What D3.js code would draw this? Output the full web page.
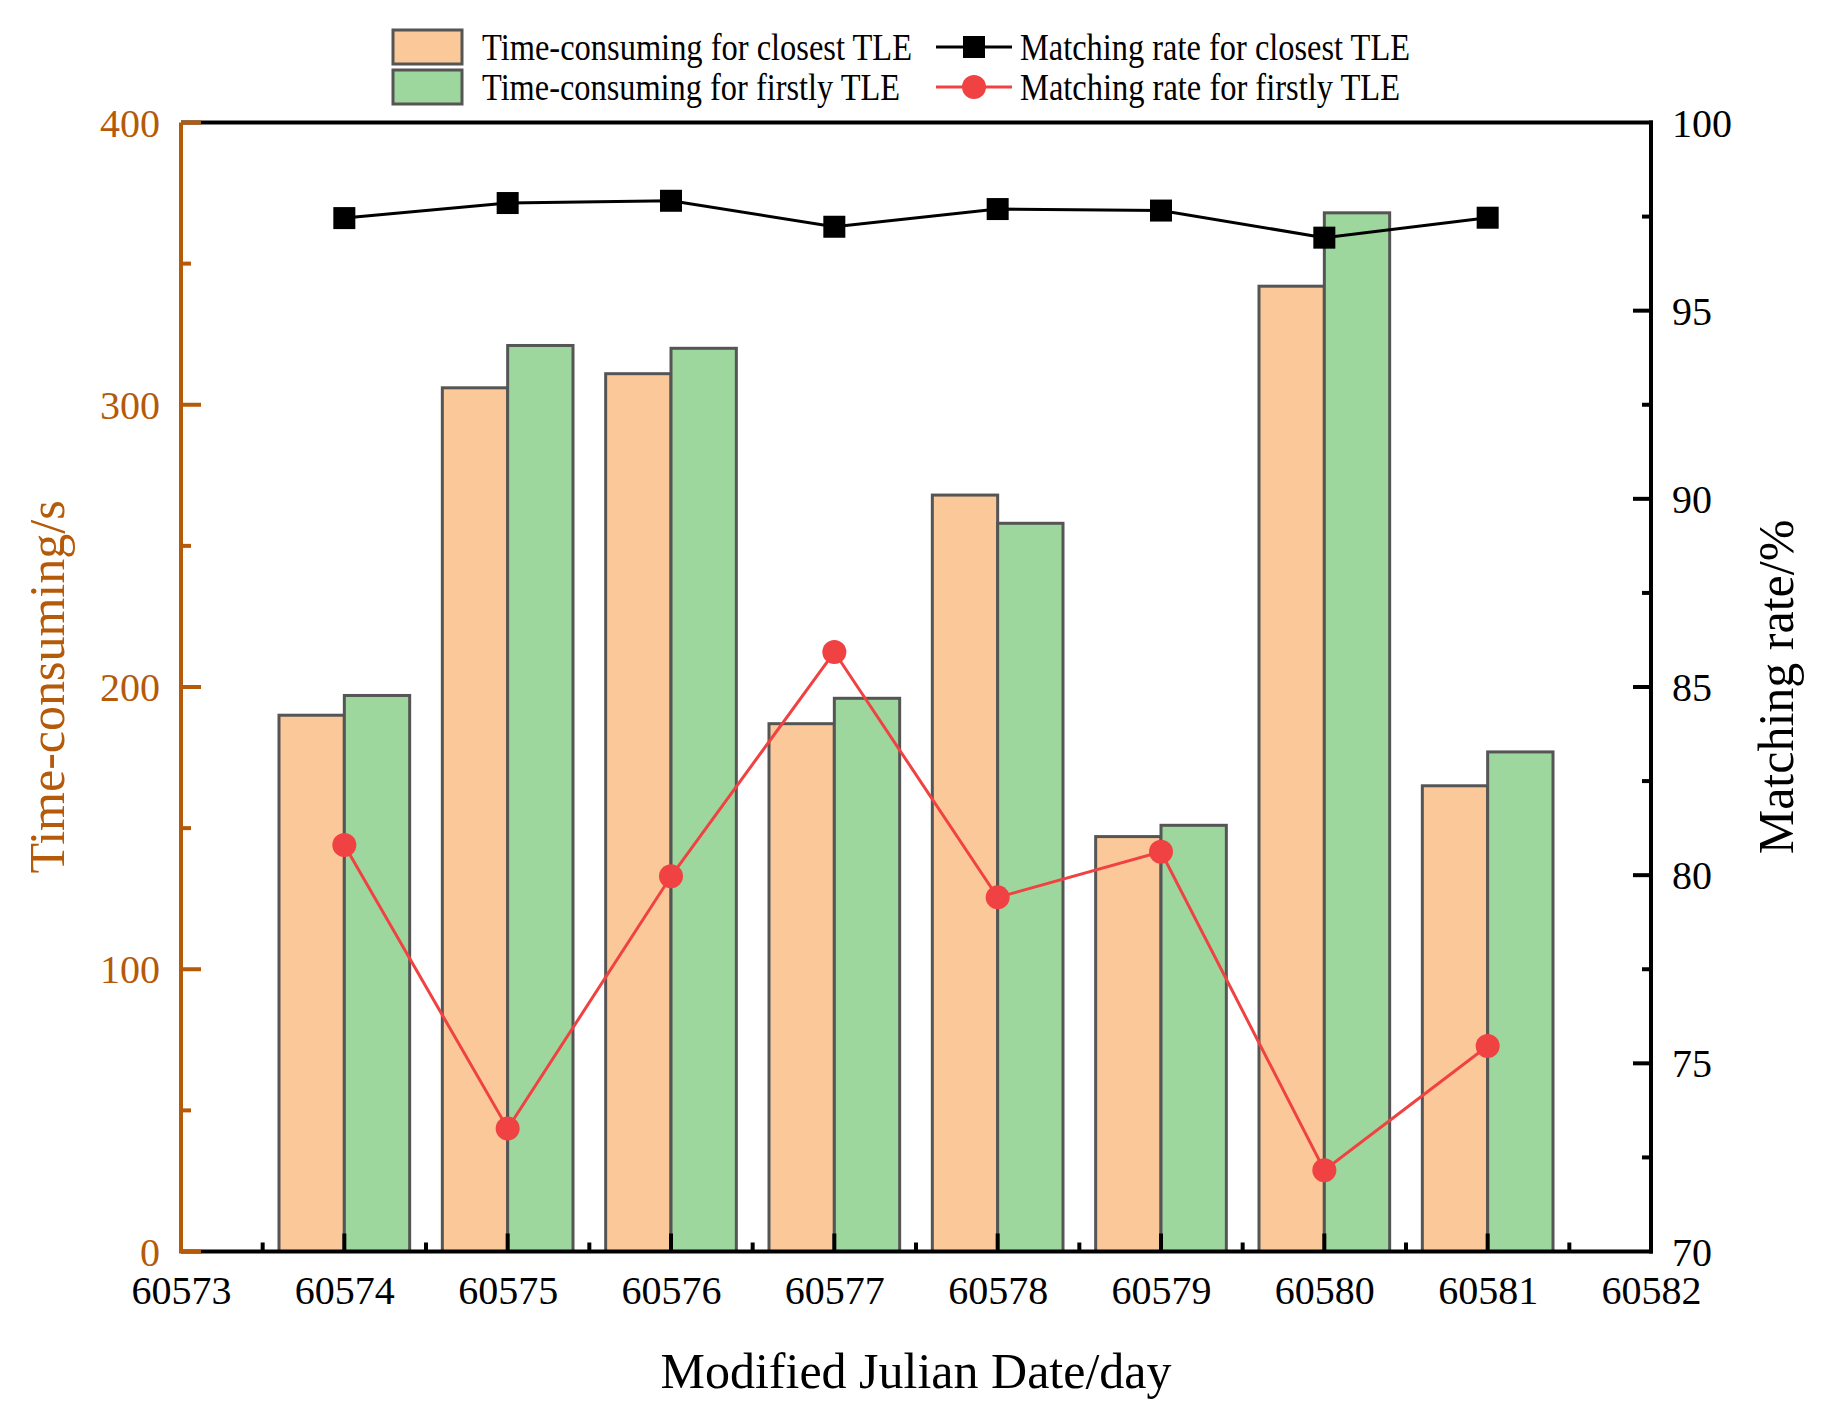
<!DOCTYPE html>
<html>
<head>
<meta charset="utf-8">
<script src="https://cdn.jsdelivr.net/npm/d3@7"></script>
<style>
  html, body { margin: 0; padding: 0; background: #fff; }
  svg { display: block; }
  svg text { font-family: "Liberation Serif", "Times New Roman", serif !important; }
</style>
</head>
<body>
<svg id="chart" width="1822" height="1414"></svg>
<script>
// ---- Data ----
const days = [60574, 60575, 60576, 60577, 60578, 60579, 60580, 60581];
const timeClosest = [190, 306, 311, 187, 268, 147, 342, 165];
const timeFirstly = [197, 321, 320, 196, 258, 151, 368, 177];
const rateClosest = [97.46, 97.86, 97.92, 97.23, 97.70, 97.66, 96.94, 97.47];
const rateFirstly = [80.8, 73.27, 79.97, 85.93, 79.41, 80.62, 72.16, 75.46];
const xTicks = [60573, 60574, 60575, 60576, 60577, 60578, 60579, 60580, 60581, 60582];
const leftTicks = [0, 100, 200, 300, 400];
const rightTicks = [70, 75, 80, 85, 90, 95, 100];
const legendLabels = ["Time-consuming for closest TLE", "Time-consuming for firstly TLE",
                      "Matching rate for closest TLE", "Matching rate for firstly TLE"];

// ---- Styles ----
const brown = "#B55A08";
const orangeFill = "#FBC999";
const greenFill = "#9ED79E";
const barStroke = "#555555";
const red = "#F04242";

const svg = d3.select("#chart");
const L = 181, R = 1651, T = 122.5, B = 1251.5;

const x = d3.scaleLinear().domain([60573, 60582]).range([L, R]);
const yL = d3.scaleLinear().domain([0, 400]).range([B, T]);
const yR = d3.scaleLinear().domain([70, 100]).range([B, T]);
const barW = 0.4;

const rows = days.map((d, i) => ({d, tc: timeClosest[i], tf: timeFirstly[i], rc: rateClosest[i], rf: rateFirstly[i]}));

// bars
svg.append("g").selectAll("rect").data(rows).join("rect")
  .attr("x", r => x(r.d - barW)).attr("width", r => x(r.d) - x(r.d - barW))
  .attr("y", r => yL(r.tc)).attr("height", r => yL(0) - yL(r.tc))
  .attr("fill", orangeFill).attr("stroke", barStroke).attr("stroke-width", 3);
svg.append("g").selectAll("rect").data(rows).join("rect")
  .attr("x", r => x(r.d)).attr("width", r => x(r.d + barW) - x(r.d))
  .attr("y", r => yL(r.tf)).attr("height", r => yL(0) - yL(r.tf))
  .attr("fill", greenFill).attr("stroke", barStroke).attr("stroke-width", 3);

// lines
const lineC = d3.line().x(r => x(r.d)).y(r => yR(r.rc));
const lineF = d3.line().x(r => x(r.d)).y(r => yR(r.rf));
svg.append("path").datum(rows).attr("d", lineC).attr("fill", "none").attr("stroke", "#000").attr("stroke-width", 3);
svg.append("g").selectAll("rect").data(rows).join("rect")
  .attr("x", r => x(r.d) - 11).attr("y", r => yR(r.rc) - 11).attr("width", 22).attr("height", 22).attr("fill", "#000");
svg.append("path").datum(rows).attr("d", lineF).attr("fill", "none").attr("stroke", red).attr("stroke-width", 3);
svg.append("g").selectAll("circle").data(rows).join("circle")
  .attr("cx", r => x(r.d)).attr("cy", r => yR(r.rf)).attr("r", 12).attr("fill", red);

// ---- Axes ----
const fontTick = 40;
const serif = "Liberation Serif";
// bottom axis
const xAxis = d3.axisBottom(x).tickValues(xTicks).tickFormat(d3.format("d")).tickSize(0).tickPadding(0);
const gx = svg.append("g").attr("transform", `translate(0,${B})`).call(xAxis).attr("font-family", serif);
gx.select(".domain").remove();
gx.selectAll("text").attr("font-size", fontTick).attr("fill", "#000").attr("dy", null).attr("y", 52);
// x ticks inward
const xMinor = d3.range(60573.5, 60582, 1);
svg.append("g").selectAll("line").data(xTicks.slice(1, -1)).join("line")
  .attr("x1", d => x(d)).attr("x2", d => x(d)).attr("y1", B).attr("y2", B - 18)
  .attr("stroke", "#000").attr("stroke-width", 4);
svg.append("g").selectAll("line").data(xMinor).join("line")
  .attr("x1", d => x(d)).attr("x2", d => x(d)).attr("y1", B).attr("y2", B - 9)
  .attr("stroke", "#000").attr("stroke-width", 4);
// frame lines
svg.append("line").attr("x1", L).attr("x2", R + 2).attr("y1", B).attr("y2", B).attr("stroke", "#000").attr("stroke-width", 4);
svg.append("line").attr("x1", L).attr("x2", R + 2).attr("y1", T).attr("y2", T).attr("stroke", "#000").attr("stroke-width", 4);
svg.append("line").attr("x1", R).attr("x2", R).attr("y1", T - 2).attr("y2", B + 2).attr("stroke", "#000").attr("stroke-width", 4);

// left axis
const yLAxis = d3.axisLeft(yL).tickValues(leftTicks).tickSize(0).tickPadding(0);
const gl = svg.append("g").attr("transform", `translate(${L},0)`).call(yLAxis).attr("font-family", serif);
gl.select(".domain").remove();
gl.selectAll("text").attr("font-size", fontTick).attr("fill", brown).attr("x", -21).attr("dy", "0.34em");
svg.append("g").selectAll("line").data(leftTicks).join("line")
  .attr("x1", L).attr("x2", L + 20).attr("y1", d => yL(d)).attr("y2", d => yL(d))
  .attr("stroke", brown).attr("stroke-width", 4);
svg.append("g").selectAll("line").data(d3.range(50, 400, 100)).join("line")
  .attr("x1", L).attr("x2", L + 10).attr("y1", d => yL(d)).attr("y2", d => yL(d))
  .attr("stroke", brown).attr("stroke-width", 4);
svg.append("line").attr("x1", L).attr("x2", L).attr("y1", T).attr("y2", B + 2).attr("stroke", brown).attr("stroke-width", 4);

// right axis
const yRAxis = d3.axisRight(yR).tickValues(rightTicks).tickSize(0).tickPadding(0);
const gr = svg.append("g").attr("transform", `translate(${R},0)`).call(yRAxis).attr("font-family", serif);
gr.select(".domain").remove();
gr.selectAll("text").attr("font-size", fontTick).attr("fill", "#000").attr("x", 21).attr("dy", "0.34em");
svg.append("g").selectAll("line").data(rightTicks.slice(1, -1)).join("line")
  .attr("x1", R).attr("x2", R - 18).attr("y1", d => yR(d)).attr("y2", d => yR(d))
  .attr("stroke", "#000").attr("stroke-width", 4);
svg.append("g").selectAll("line").data(d3.range(72.5, 100, 5)).join("line")
  .attr("x1", R).attr("x2", R - 9).attr("y1", d => yR(d)).attr("y2", d => yR(d))
  .attr("stroke", "#000").attr("stroke-width", 4);

// axis titles
svg.append("text").attr("x", (L + R) / 2).attr("y", 1388).attr("text-anchor", "middle")
  .attr("font-size", 50).attr("fill", "#000").text("Modified Julian Date/day");
svg.append("text").attr("transform", `translate(64,${(T + B) / 2}) rotate(-90)`).attr("text-anchor", "middle")
  .attr("font-size", 50).attr("fill", brown).text("Time-consuming/s");
svg.append("text").attr("transform", `translate(1793,${(T + B) / 2}) rotate(-90)`).attr("text-anchor", "middle")
  .attr("font-size", 50).attr("fill", "#000").text("Matching rate/%");

// ---- Legend ----
const lg = svg.append("g");
const legFont = 38;
const lens = [430, 418, 390, 380];
// bar swatches
[[orangeFill, 30], [greenFill, 70]].forEach(([c, y0], i) => {
  lg.append("rect").attr("x", 393).attr("y", y0).attr("width", 69).attr("height", 34)
    .attr("fill", c).attr("stroke", barStroke).attr("stroke-width", 3);
  lg.append("text").attr("x", 482).attr("y", y0 + 30).attr("font-size", legFont)
    .attr("textLength", lens[i]).attr("lengthAdjust", "spacingAndGlyphs").text(legendLabels[i]);
});
// line swatches
lg.append("line").attr("x1", 936).attr("x2", 1012).attr("y1", 47).attr("y2", 47).attr("stroke", "#000").attr("stroke-width", 3);
lg.append("rect").attr("x", 963).attr("y", 36).attr("width", 22).attr("height", 22).attr("fill", "#000");
lg.append("text").attr("x", 1020).attr("y", 60).attr("font-size", legFont)
  .attr("textLength", lens[2]).attr("lengthAdjust", "spacingAndGlyphs").text(legendLabels[2]);
lg.append("line").attr("x1", 936).attr("x2", 1012).attr("y1", 87).attr("y2", 87).attr("stroke", red).attr("stroke-width", 3);
lg.append("circle").attr("cx", 974).attr("cy", 87).attr("r", 12).attr("fill", red);
lg.append("text").attr("x", 1020).attr("y", 100).attr("font-size", legFont)
  .attr("textLength", lens[3]).attr("lengthAdjust", "spacingAndGlyphs").text(legendLabels[3]);
</script>
</body>
</html>
